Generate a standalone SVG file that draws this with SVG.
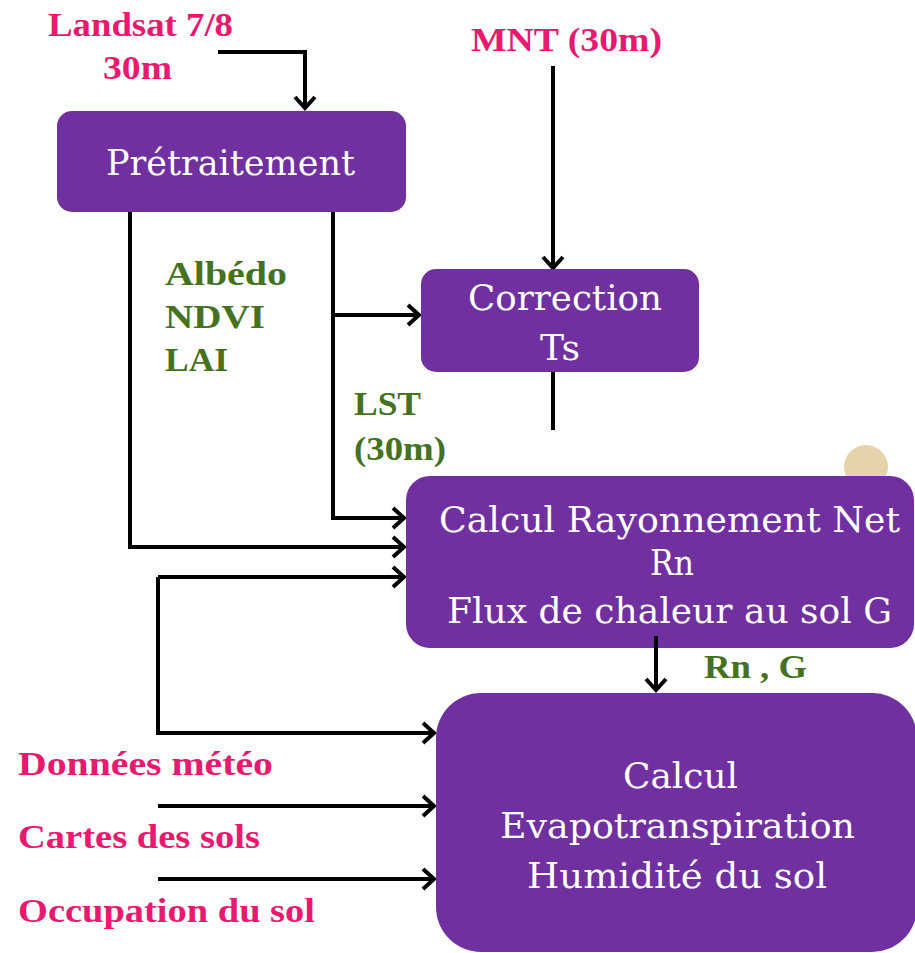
<svg xmlns="http://www.w3.org/2000/svg" width="915" height="953" viewBox="0 0 915 953">
<style>
.box{fill:#7030A0;}
.bt{font-family:"DejaVu Serif","Liberation Serif",serif;font-size:36px;fill:#ffffff;}
.pink{font-family:"Liberation Serif",serif;font-weight:bold;font-size:34px;fill:#E8196F;}
.green{font-family:"Liberation Serif",serif;font-weight:bold;font-size:34px;fill:#44721F;}
.c{fill:none;stroke:#000;stroke-width:4;}
</style>
<defs>
<marker id="arr" markerUnits="userSpaceOnUse" markerWidth="30" markerHeight="30" viewBox="-15 -15 30 30" refX="0" refY="0" orient="auto" overflow="visible">
<path d="M-11 -10 L0 0 L-11 10" fill="none" stroke="#000" stroke-width="4" stroke-linejoin="miter"/>
</marker>
</defs>
<rect width="915" height="953" fill="#ffffff"/>
<circle cx="866" cy="467" r="22" fill="#E6D3AC"/>
<g id="labels">
<text class="pink" x="48" y="36" textLength="185" lengthAdjust="spacingAndGlyphs">Landsat 7/8</text>
<text class="pink" x="103" y="79" textLength="69" lengthAdjust="spacingAndGlyphs">30m</text>
<text class="pink" x="471" y="51" textLength="191" lengthAdjust="spacingAndGlyphs">MNT (30m)</text>
<text class="green" x="165" y="285" textLength="122" lengthAdjust="spacingAndGlyphs">Albédo</text>
<text class="green" x="165" y="328" textLength="100" lengthAdjust="spacingAndGlyphs">NDVI</text>
<text class="green" x="165" y="371" textLength="63" lengthAdjust="spacingAndGlyphs">LAI</text>
<text class="green" x="354" y="415" textLength="67" lengthAdjust="spacingAndGlyphs">LST</text>
<text class="green" x="354" y="460" textLength="92" lengthAdjust="spacingAndGlyphs">(30m)</text>
<text class="green" x="704" y="678" textLength="103" lengthAdjust="spacingAndGlyphs">Rn , G</text>
<text class="pink" x="18" y="775" textLength="255" lengthAdjust="spacingAndGlyphs">Données météo</text>
<text class="pink" x="18" y="848" textLength="242" lengthAdjust="spacingAndGlyphs">Cartes des sols</text>
<text class="pink" x="18" y="922" textLength="297" lengthAdjust="spacingAndGlyphs">Occupation du sol</text>
</g>
<g id="connectors">
<path class="c" d="M218 52 H305 V108" marker-end="url(#arr)"/>
<path class="c" d="M553 66 V268" marker-end="url(#arr)"/>
<path class="c" d="M553 372 V430"/>
<path class="c" d="M130 212 V547 H404" marker-end="url(#arr)"/>
<path class="c" d="M333 212 V518 H404" marker-end="url(#arr)"/>
<path class="c" d="M333 315 H419" marker-end="url(#arr)"/>
<path class="c" d="M158 577 H404" marker-end="url(#arr)"/>
<path class="c" d="M158 577 V733 H434" marker-end="url(#arr)"/>
<path class="c" d="M158 806 H434" marker-end="url(#arr)"/>
<path class="c" d="M158 879 H434" marker-end="url(#arr)"/>
<path class="c" d="M656 636 V690" marker-end="url(#arr)"/>
</g>
<g id="pretraitement">
<rect class="box" x="57" y="111" width="349" height="101" rx="15"/>
<text class="bt" x="106" y="175" textLength="249" lengthAdjust="spacingAndGlyphs">Prétraitement</text>
</g>
<g id="correction">
<rect class="box" x="421" y="269" width="278" height="103" rx="15"/>
<text class="bt" x="468" y="310" textLength="194" lengthAdjust="spacingAndGlyphs">Correction</text>
<text class="bt" x="540" y="360" textLength="40" lengthAdjust="spacingAndGlyphs">Ts</text>
</g>
<g id="rayonnement">
<path class="c" d="M656 636 V650"/>
<rect class="box" x="406" y="476" width="508" height="172" rx="24"/>
<text class="bt" x="439" y="532" textLength="461" lengthAdjust="spacingAndGlyphs">Calcul Rayonnement Net</text>
<text class="bt" x="650" y="575" textLength="44" lengthAdjust="spacingAndGlyphs">Rn</text>
<text class="bt" x="447" y="623" textLength="445" lengthAdjust="spacingAndGlyphs">Flux de chaleur au sol G</text>
<path class="c" d="M656 636 V648"/>
</g>
<g id="evapotranspiration">
<rect class="box" x="436" y="693" width="481" height="259" rx="45"/>
<text class="bt" x="623" y="788" textLength="115" lengthAdjust="spacingAndGlyphs">Calcul</text>
<text class="bt" x="500" y="838" textLength="355" lengthAdjust="spacingAndGlyphs">Evapotranspiration</text>
<text class="bt" x="527" y="888" textLength="300" lengthAdjust="spacingAndGlyphs">Humidité du sol</text>
</g>
</svg>
